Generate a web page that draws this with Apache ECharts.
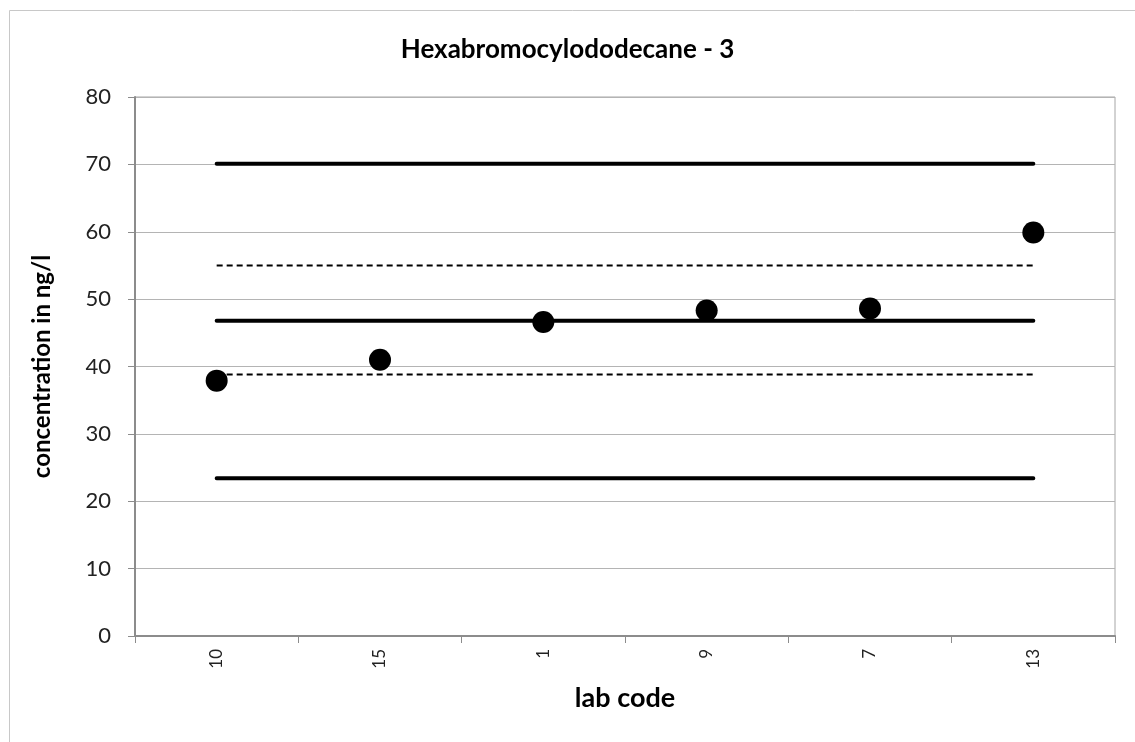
<!DOCTYPE html>
<html>
<head>
<meta charset="utf-8">
<script src="https://cdn.jsdelivr.net/npm/echarts@6/dist/echarts.min.js"></script>
<style>html,body{margin:0;padding:0;background:#fff}#c{width:1135px;height:742px}</style>
</head>
<body>
<div id="c"></div>
<script>
const categories = ['10', '15', '1', '9', '7', '13'];
const labValues = [37.9, 41.0, 46.6, 48.3, 48.6, 59.9];
const upperLimit = 70.1;
const upperDashed = 55.0;
const assignedValue = 46.8;
const lowerDashed = 38.8;
const lowerLimit = 23.4;
const yTicks = { min: 0, max: 80, interval: 10 };

const flat = v => categories.map(() => v);
const font = 'Lato, "Open Sans", sans-serif';

const chart = echarts.init(document.getElementById('c'));
chart.setOption({
  animation: false,
  backgroundColor: '#fff',
  title: {
    text: 'Hexabromocylododecane - 3',
    left: 'center', top: 32,
    textStyle: { fontFamily: font, fontWeight: 'bold', fontSize: 26, color: '#000' }
  },
  graphic: [{
    type: 'rect', left: 7, top: 8,
    shape: { width: 1140, height: 740 },
    style: { fill: 'none', stroke: '#c8c8c8', lineWidth: 1 },
    silent: true, z: -1
  }],
  grid: { left: 135, top: 97, right: 20, bottom: 106, show: true, borderColor: '#a6a6a6', borderWidth: 1 },
  xAxis: {
    type: 'category', data: categories, boundaryGap: true,
    name: 'lab code', nameLocation: 'middle', nameGap: 49,
    nameTextStyle: { fontFamily: font, fontWeight: 'bold', fontSize: 27, color: '#000' },
    axisLine: { lineStyle: { color: '#8c8c8c', width: 2 } },
    axisTick: { show: true, alignWithLabel: false, length: 7, lineStyle: { color: '#8c8c8c' } },
    axisLabel: { rotate: 90, fontFamily: font, fontSize: 17, color: '#222', margin: 13 },
    splitLine: { show: false }
  },
  yAxis: {
    type: 'value', min: yTicks.min, max: yTicks.max, interval: yTicks.interval,
    name: 'concentration in ng/l', nameLocation: 'middle', nameGap: 81,
    nameTextStyle: { fontFamily: font, fontWeight: 'bold', fontSize: 24, color: '#000' },
    axisLine: { show: true, lineStyle: { color: '#8c8c8c', width: 2 } },
    axisTick: { show: true, length: 7, lineStyle: { color: '#8c8c8c' } },
    axisLabel: { fontFamily: font, fontSize: 22, color: '#222', margin: 24 },
    splitLine: { show: true, lineStyle: { color: '#b4b4b4', width: 1 } }
  },
  series: [
    { type: 'line', data: flat(upperLimit), symbol: 'none', lineStyle: { color: '#000', width: 4, cap: 'round' } },
    { type: 'line', data: flat(upperDashed), symbol: 'none', lineStyle: { color: '#000', width: 2, type: [6, 4] } },
    { type: 'line', data: flat(assignedValue), symbol: 'none', lineStyle: { color: '#000', width: 4, cap: 'round' } },
    { type: 'line', data: flat(lowerDashed), symbol: 'none', lineStyle: { color: '#000', width: 2, type: [6, 4] } },
    { type: 'line', data: flat(lowerLimit), symbol: 'none', lineStyle: { color: '#000', width: 4, cap: 'round' } },
    { type: 'scatter', data: labValues, symbol: 'circle', symbolSize: 22, itemStyle: { color: '#000', opacity: 1 }, z: 5 }
  ]
});
</script>
</body>
</html>
